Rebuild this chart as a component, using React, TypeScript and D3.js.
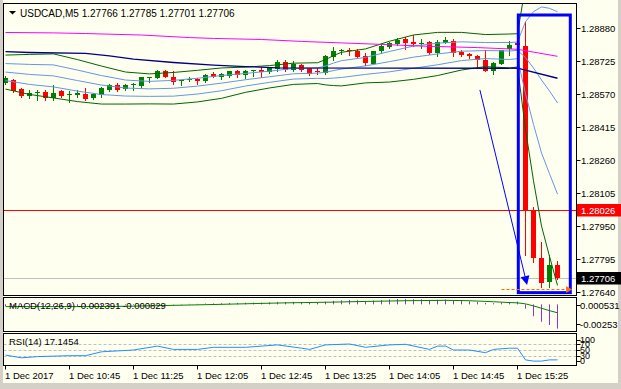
import React from "react";
import * as d3 from "d3";

const W = 621;
const H = 389;
const FONT = "'Liberation Sans', Arial, sans-serif";

// ---------- chart data ----------
const symbolTitle = "USDCAD,M5";
const titleQuote = ["1.27766", "1.27785", "1.27701", "1.27706"];

const opens = [
  1.28622, 1.28634, 1.28594, 1.28559, 1.28575, 1.2858, 1.28552, 1.28584, 1.28566, 1.28566,
  1.2857, 1.28552, 1.28566, 1.28589, 1.28612, 1.28594, 1.2861, 1.28608, 1.28645, 1.28645,
  1.28678, 1.28652, 1.28629, 1.28634, 1.28641, 1.28629, 1.28662, 1.28652, 1.28655, 1.28676,
  1.28659, 1.28678, 1.28685, 1.28671, 1.28687, 1.28718, 1.28685, 1.28706, 1.2869, 1.28676,
  1.28669, 1.28746, 1.28774, 1.28779, 1.28773, 1.28749, 1.28711, 1.2877, 1.28793, 1.28805,
  1.28826, 1.28816, 1.28805, 1.28816, 1.28761, 1.28811, 1.2882, 1.28769, 1.28756, 1.28749,
  1.2873, 1.28679, 1.28711, 1.2878, 1.2881, 1.28796, 1.28025, 1.278, 1.27688, 1.27766,
];
const highs = [
  1.28655, 1.28641, 1.28598, 1.28589, 1.28587, 1.28589, 1.28612, 1.28591, 1.28582, 1.28589,
  1.28598, 1.28577, 1.28603, 1.28617, 1.28622, 1.28617, 1.28624, 1.28652, 1.28652, 1.28683,
  1.28685, 1.28676, 1.28634, 1.28648, 1.28645, 1.28664, 1.28671, 1.28669, 1.2868, 1.28683,
  1.28685, 1.28683, 1.28695, 1.28697, 1.2873, 1.28732, 1.28727, 1.28709, 1.28692, 1.2869,
  1.28753, 1.28793, 1.2878, 1.28788, 1.2878, 1.28761, 1.28774, 1.28805, 1.28816, 1.28832,
  1.28836, 1.28847, 1.28827, 1.28817, 1.28824, 1.28839, 1.28827, 1.28777, 1.28761, 1.28753,
  1.28777, 1.28721, 1.28779, 1.28821, 1.28814, 1.2891, 1.28039, 1.27876, 1.27814, 1.27785,
];
const lows = [
  1.28617, 1.2858, 1.28556, 1.28552, 1.28542, 1.28542, 1.28542, 1.28556, 1.28533, 1.28556,
  1.28542, 1.28545, 1.28556, 1.28584, 1.28584, 1.28589, 1.28591, 1.28605, 1.28626, 1.28643,
  1.28648, 1.28617, 1.2861, 1.28629, 1.28619, 1.28626, 1.28648, 1.28641, 1.28652, 1.2865,
  1.28645, 1.28655, 1.28652, 1.28669, 1.2868, 1.2868, 1.2868, 1.28676, 1.28659, 1.28664,
  1.28664, 1.28732, 1.2876, 1.28753, 1.28742, 1.28706, 1.28709, 1.28761, 1.28785, 1.288,
  1.2878, 1.28796, 1.28788, 1.28756, 1.28748, 1.28808, 1.28749, 1.28749, 1.28738, 1.28695,
  1.28678, 1.28664, 1.28709, 1.28753, 1.28793, 1.27814, 1.27782, 1.27665, 1.27665, 1.27701,
];
const closes = [
  1.28645, 1.28582, 1.28559, 1.28575, 1.2858, 1.28552, 1.28575, 1.28561, 1.28568, 1.28577,
  1.28547, 1.2857, 1.28598, 1.28612, 1.28591, 1.2861, 1.28615, 1.2865, 1.2865, 1.28678,
  1.28652, 1.28626, 1.28634, 1.28641, 1.28629, 1.28659, 1.28652, 1.28664, 1.28676, 1.28659,
  1.2868, 1.28683, 1.28671, 1.28695, 1.28718, 1.28685, 1.28711, 1.28683, 1.28666, 1.28671,
  1.28749, 1.28774, 1.28779, 1.28773, 1.28745, 1.28717, 1.28772, 1.28797, 1.28811, 1.28824,
  1.2881, 1.28803, 1.28811, 1.28761, 1.28813, 1.28824, 1.28761, 1.28753, 1.28749, 1.2873,
  1.28679, 1.28717, 1.28777, 1.288, 1.28798, 1.28025, 1.27801, 1.27682, 1.27767, 1.27706,
];

// moving averages (bar index, price)
const maMagentaIdx = [0, 6, 10, 17, 23, 26, 32, 37, 42, 47, 52, 59, 64, 69];
const maMagentaVal = [
  1.28859, 1.28857, 1.28854, 1.28847, 1.28835, 1.28831, 1.28826, 1.28817, 1.2881, 1.28803,
  1.28795, 1.28788, 1.2878, 1.28747,
];
const maNavyIdx = [0, 3, 10, 13, 16, 21, 26, 30, 34, 64, 69];
const maNavyVal = [
  1.28769, 1.28765, 1.28761, 1.28749, 1.28734, 1.28718, 1.28706, 1.28699, 1.28693, 1.28691,
  1.28644,
];

// Bollinger bands: middle line and one deviation
const bbIdx = [0, 3, 6, 9, 12, 15, 18, 21, 24, 27, 30, 33, 36, 39, 40, 41, 42, 45, 48, 51, 54, 57, 60, 63, 64, 65, 66, 67, 68, 69];
const bbMid = [
  1.28673, 1.28662, 1.28655, 1.28633, 1.28612, 1.28598, 1.28594, 1.28597, 1.28607, 1.28621,
  1.28637, 1.28651, 1.28665, 1.28668, 1.28672, 1.2868, 1.28687, 1.28702, 1.28722, 1.28743,
  1.28758, 1.28771, 1.28774, 1.28772, 1.28775, 1.28741, 1.28692, 1.28636, 1.28584, 1.28528,
];
const bbDev = [
  0.000399, 0.00047, 0.000517, 0.000493, 0.000446, 0.000376, 0.000352, 0.000371, 0.000371, 0.000357,
  0.000296, 0.000263, 0.000249, 0.000244, 0.000296, 0.000352, 0.000395, 0.000399, 0.000479, 0.000521,
  0.000507, 0.000442, 0.000376, 0.000399, 0.00039, 0.001686, 0.002649, 0.003429, 0.003884, 0.004284,
];

// MACD(12,26,9)
const macdMain = [
  -0.00016, -0.00018, -0.0002, -0.00021, -0.00022, -0.00022, -0.00021, -0.00021, -0.0002, -0.00019,
  -0.0002, -0.00018, -0.00015, -0.00012, -0.0001, -0.00008, -0.00006, -0.00003, -0.00001, 0.00004,
  0.00006, 0.00004, 0.00004, 0.00005, 0.00005, 0.00008, 0.00009, 0.00011, 0.00014, 0.00014,
  0.00016, 0.00017, 0.00017, 0.0002, 0.00024, 0.00023, 0.00025, 0.00023, 0.00019, 0.00017,
  0.00027, 0.00035, 0.0004, 0.00043, 0.0004, 0.00033, 0.00037, 0.00043, 0.00049, 0.00053,
  0.00052, 0.00051, 0.0005, 0.00044, 0.00045, 0.00047, 0.0004, 0.00035, 0.0003, 0.00024,
  0.00014, 0.00012, 0.00018, 0.00024, 0.00027, -0.00042, -0.00117, -0.00172, -0.00204, -0.002391,
];
const macdSigIdx = [0, 10, 15, 20, 25, 30, 35, 40, 45, 50, 55, 58, 61, 63, 64, 65, 66, 67, 68, 69];
const macdSigVal = [
  -0.00022, -0.00022, -0.00019, -0.00011, -0.00003, 0.00006, 0.00015, 0.00021, 0.00029, 0.00036,
  0.0004, 0.00036, 0.00026, 0.00018, 0.00015, 0.00005, -0.00015, -0.00038, -0.00062, -0.000829,
];
const macdLabels = ["0.000531", "-0.00253"];

// RSI(14)
const rsiIdx = [0, 2, 4, 8, 10, 12, 16, 19, 21, 24, 26, 30, 34, 37, 38, 40, 43, 45, 48, 50, 53, 54, 55, 56, 58, 60, 61, 63, 64, 65, 66, 67, 68, 69];
const rsiVal = [
  33, 24, 28, 31, 31, 44, 50, 63, 52, 52, 59, 59, 67, 56, 52, 67, 70, 59, 67, 69, 52, 63, 63, 50,
  50, 41, 52, 56, 56, 17, 13, 13, 17, 17.1454,
];
const rsiLevels = [70, 50, 30];
const rsiAxisLabels = ["100", "70", "50", "30", "0"];

// axes
const priceTicks = [1.2888, 1.28725, 1.2857, 1.28415, 1.2826, 1.28105, 1.2795, 1.27795, 1.2764];
const timeTickIdx = [0, 8, 16, 24, 32, 40, 48, 56, 64];
const timeLabels = [
  "1 Dec 2017", "1 Dec 10:45", "1 Dec 11:25", "1 Dec 12:05", "1 Dec 12:45",
  "1 Dec 13:25", "1 Dec 14:05", "1 Dec 14:45", "1 Dec 15:25",
];

// levels and drawn objects (bar index, price)
const redLevel = 1.28026;
const bidLevel = 1.27706;
const orangeLevel = 1.27656;
const orangeFromIdx = 62;
const orangeToIdx = 70.7;
const arrowFrom = [59.3, 1.28589];
const arrowTo = [65.2, 1.27673];
const boxFrom = [64.1, 1.28941];
const boxTo = [70.6, 1.27637];

export default function App() {
  const xs = d3.scaleLinear().domain([0, 69]).range([5.5, 557.5]);
  const ys = d3.scaleLinear().domain([1.2764, 1.2888]).range([292, 28]);
  const ym = d3.scaleLinear().domain([-0.00253, 0.000531]).range([330, 299]);
  const yr = d3.scaleLinear().domain([0, 100]).range([365, 335]);

  const mkLine = (idx: number[], vals: number[], sy: (v: number) => number) =>
    d3
      .line<number>()
      .x((_, k) => xs(idx[k]))
      .y((v) => sy(v))(vals) || "";

  const plotL = 3.5;
  const plotR = 576.5;
  const mainTop = 3.5;
  const mainBot = 295.5;
  const macdTop = 297.5;
  const macdBot = 331.5;
  const rsiTop = 333.5;
  const rsiBot = 365.5;

  const bands = [
    { k: 2, c: "#006400" },
    { k: -2, c: "#006400" },
    { k: 1, c: "#6495ed" },
    { k: 0, c: "#6495ed" },
    { k: -1, c: "#6495ed" },
  ];

  // arrow head
  const ax0 = xs(arrowFrom[0]);
  const ay0 = ys(arrowFrom[1]);
  const ax1 = xs(arrowTo[0]);
  const ay1 = ys(arrowTo[1]);
  const len = Math.hypot(ax1 - ax0, ay1 - ay0);
  const ux = (ax1 - ax0) / len;
  const uy = (ay1 - ay0) / len;
  const hb = 9;
  const hw = 4.5;
  const bx = ax1 - ux * hb;
  const by = ay1 - uy * hb;
  const head = `${ax1},${ay1} ${bx - uy * hw},${by + ux * hw} ${bx + uy * hw},${by - ux * hw}`;

  const oy = Math.round(ys(orangeLevel)) + 0.5;
  const ox1 = xs(orangeToIdx);

  return (
    <svg
      width={W}
      height={H}
      style={{ position: "absolute", left: 0, top: 0, display: "block" }}
      fontFamily={FONT}
    >
      <defs>
        <clipPath id="mainClip">
          <rect x={plotL + 0.5} y={mainTop + 0.5} width={plotR - plotL - 1} height={mainBot - mainTop - 1} />
        </clipPath>
        <clipPath id="macdClip">
          <rect x={plotL + 0.5} y={macdTop + 0.5} width={plotR - plotL - 1} height={macdBot - macdTop - 1} />
        </clipPath>
        <clipPath id="rsiClip">
          <rect x={plotL + 0.5} y={rsiTop + 0.5} width={plotR - plotL - 1} height={rsiBot - rsiTop - 1} />
        </clipPath>
      </defs>
      <rect x={0} y={0} width={W} height={H} fill="#fffff0" />
      <rect x={0} y={0} width={3} height={H} fill="#d4d0c8" />
      <rect x={0} y={383} width={W} height={6} fill="#d4d0c8" />
      <rect x={618} y={0} width={3} height={H} fill="#d4d0c8" />

      {/* main chart */}
      <g clipPath="url(#mainClip)">
        {/* price levels */}
        <line x1={plotL} x2={plotR} y1={Math.round(ys(redLevel)) + 0.5} y2={Math.round(ys(redLevel)) + 0.5} stroke="#ff0000" />
        <line x1={plotL} x2={plotR} y1={Math.round(ys(bidLevel)) + 0.5} y2={Math.round(ys(bidLevel)) + 0.5} stroke="#c0c0c0" />

        {/* candles */}
        {opens.map((o, i) => {
          const c = closes[i];
          const up = c >= o;
          const col = up ? "#008000" : "#ff0000";
          const x = xs(i);
          const yo = Math.round(ys(o));
          const yc = Math.round(ys(c));
          const top = Math.min(yo, yc);
          const h = Math.max(1, Math.abs(yo - yc));
          return (
            <g key={i}>
              <line x1={x} x2={x} y1={Math.round(ys(highs[i]))} y2={Math.round(ys(lows[i])) + 1} stroke={col} />
              <rect x={x - 2.5} y={top} width={5} height={h} fill={col} />
            </g>
          );
        })}

        {/* indicators */}
        {bands.map((b, j) => (
          <path
            key={j}
            d={mkLine(bbIdx, bbMid.map((m, q) => m + b.k * bbDev[q]), ys)}
            fill="none"
            stroke={b.c}
            strokeWidth={1}
          />
        ))}
        <path d={mkLine(maMagentaIdx, maMagentaVal, ys)} fill="none" stroke="#ff00ff" strokeWidth={1} />
        <path d={mkLine(maNavyIdx, maNavyVal, ys)} fill="none" stroke="#000080" strokeWidth={1.3} />

        {/* drawn objects */}
        <line x1={ax0} y1={ay0} x2={bx} y2={by} stroke="#0000ff" strokeWidth={1} />
        <polygon points={head} fill="#0000ff" />
        <rect
          x={xs(boxFrom[0])}
          y={ys(boxFrom[1])}
          width={xs(boxTo[0]) - xs(boxFrom[0])}
          height={ys(boxTo[1]) - ys(boxFrom[1])}
          fill="none"
          stroke="#0000ff"
          strokeWidth={3}
        />
        <line x1={xs(orangeFromIdx)} x2={ox1 - 5} y1={oy} y2={oy} stroke="#ff6a00" strokeDasharray="3,2" />
      </g>
      <polygon points={`${ox1 - 5},${oy - 3.5} ${ox1 + 1},${oy} ${ox1 - 5},${oy + 3.5}`} fill="#ff6a00" />

      {/* title */}
      <polygon points="9,11 16,11 12.5,14.5" fill="#000" />
      <text x={20} y={16.5} fontSize={10} fill="#000">
        {symbolTitle} {titleQuote.join(" ")}
      </text>

      {/* MACD */}
      <g clipPath="url(#macdClip)">
        {macdMain.map((v, i) => (
          <line key={i} x1={xs(i)} x2={xs(i)} y1={ym(0)} y2={ym(v)} stroke="#9932cc" strokeWidth={1} />
        ))}
        <path d={mkLine(macdSigIdx, macdSigVal, ym)} fill="none" stroke="#008000" strokeWidth={1} />
      </g>
      <text x={9} y={309.2} fontSize={9.5} fill="#000">
        MACD(12,26,9) {macdMain[macdMain.length - 1].toFixed(6)} {macdSigVal[macdSigVal.length - 1].toFixed(6)}
      </text>

      {/* RSI */}
      <g clipPath="url(#rsiClip)">
        {rsiLevels.map((l) => (
          <line key={l} x1={plotL} x2={plotR} y1={Math.round(yr(l)) + 0.5} y2={Math.round(yr(l)) + 0.5} stroke="#c0c0c0" strokeDasharray="3,2" />
        ))}
        <path d={mkLine(rsiIdx, rsiVal, yr)} fill="none" stroke="#1e90ff" strokeWidth={1} />
      </g>
      <text x={9} y={345.3} fontSize={9.5} fill="#000">
        RSI(14) {rsiVal[rsiVal.length - 1].toFixed(4)}
      </text>

      {/* frames */}
      <rect x={plotL} y={mainTop} width={plotR - plotL} height={mainBot - mainTop} fill="none" stroke="#000" />
      <rect x={plotL} y={macdTop} width={plotR - plotL} height={macdBot - macdTop} fill="none" stroke="#000" />
      <rect x={plotL} y={rsiTop} width={plotR - plotL} height={rsiBot - rsiTop} fill="none" stroke="#000" />

      {/* price axis */}
      {priceTicks.map((p) => {
        const y = Math.round(ys(p)) + 0.5;
        return (
          <g key={p}>
            <line x1={plotR} x2={plotR + 4} y1={y} y2={y} stroke="#000" />
            <text x={581} y={y + 3.3} fontSize={9.5} fill="#000">
              {p.toFixed(5)}
            </text>
          </g>
        );
      })}
      <rect x={577} y={Math.round(ys(redLevel)) - 6} width={44} height={12.5} fill="#ff0000" />
      <text x={581} y={Math.round(ys(redLevel)) + 3.8} fontSize={9.5} fill="#fff">
        {redLevel.toFixed(5)}
      </text>
      <rect x={577} y={Math.round(ys(bidLevel)) - 6} width={44} height={12.5} fill="#000" />
      <text x={581} y={Math.round(ys(bidLevel)) + 3.8} fontSize={9.5} fill="#fff">
        {bidLevel.toFixed(5)}
      </text>

      {/* MACD axis */}
      <line x1={plotR} x2={plotR + 4} y1={305.5} y2={305.5} stroke="#000" />
      <line x1={plotR} x2={plotR + 4} y1={324.5} y2={324.5} stroke="#000" />
      <text x={580} y={308.5} fontSize={9.5} fill="#000">{macdLabels[0]}</text>
      <text x={580} y={328} fontSize={9.5} fill="#000">{macdLabels[1]}</text>

      {/* RSI axis (labels overlap in the original too) */}
      {rsiAxisLabels.map((t) => {
        const v = +t;
        const yy = v === 100 ? yr(100) + 4.5 : v === 0 ? yr(0) - 4 : yr(v);
        return (
          <g key={t}>
            <line x1={plotR} x2={plotR + 4} y1={Math.round(yy) + 0.5} y2={Math.round(yy) + 0.5} stroke="#000" />
            <text x={580} y={yy + 3} fontSize={9} fill="#000">{t}</text>
          </g>
        );
      })}

      {/* time axis */}
      {timeTickIdx.map((ti, k) => (
        <g key={ti}>
          <line x1={xs(ti)} x2={xs(ti)} y1={rsiBot} y2={rsiBot + 4} stroke="#000" />
          <text x={xs(ti) - 0.5} y={378.5} fontSize={9.5} fill="#000">
            {timeLabels[k]}
          </text>
        </g>
      ))}
    </svg>
  );
}
